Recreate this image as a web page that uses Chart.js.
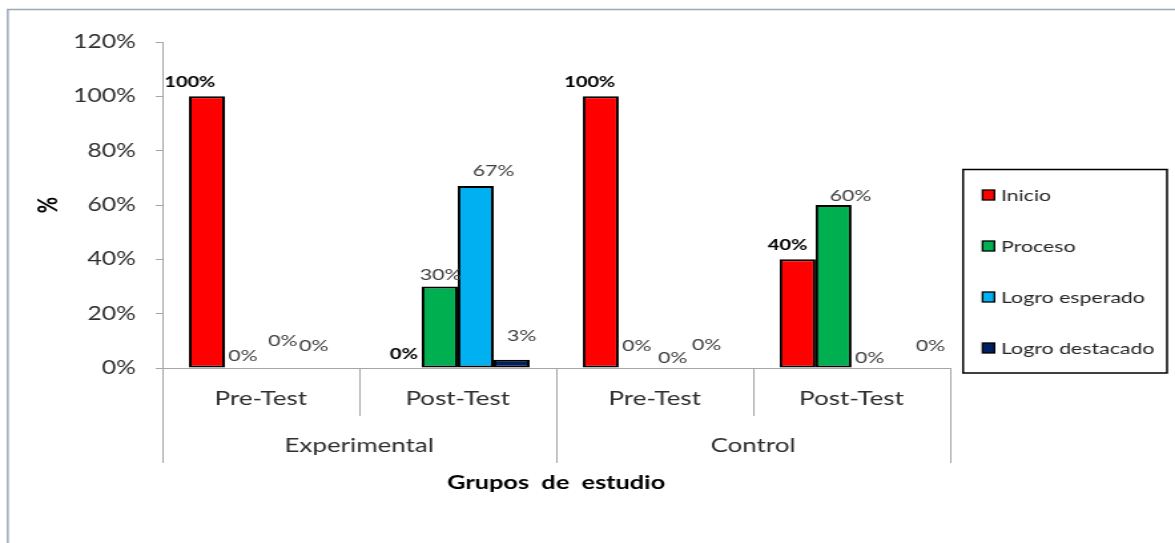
<!DOCTYPE html>
<html>
<head>
<meta charset="utf-8">
<script src="https://cdn.jsdelivr.net/npm/chart.js@4"></script>
<style>
  html, body { margin: 0; padding: 0; background: #ffffff; overflow: hidden; }
</style>
</head>
<body>
<canvas id="c" width="883" height="543" style="width:1175px;height:543px;display:block;"></canvas>
<script>
// ---- data ----
const categories = ['Pre-Test', 'Post-Test', 'Pre-Test', 'Post-Test'];
const groups = ['Experimental', 'Control'];
const seriesNames = ['Inicio', 'Proceso', 'Logro esperado', 'Logro destacado'];
const inicio = [100, 0, 100, 40];
const proceso = [0, 30, 0, 60];
const logroEsperado = [0, 67, 0, 0];
const logroDestacado = [0, 3, 0, 0];
const yTicks = [0, 20, 40, 60, 80, 100, 120];
const xTitle = 'Grupos  de  estudio';
const yTitle = '%';

// ---- styling ----
const S = 1175 / 883; // horizontal stretch of the picture
const colors = ['#FF0000', '#00B050', '#00B0F0', '#002060'];
const FONT = 'Lato';
// label nudges (dx, dy) per series per category, in picture pixels
const labelNudges = [
  [[-17, -14], [0, -14], [-11, -14], [-10, -14]],
  [[0, -12], [1, -12], [0, -22], [17, -9]],
  [[4, -27], [18, -15], [0, -10], [0, -10]],
  [[-1, -22], [10, -24], [-2, -23], [25, -22]]
];
const boldSeries = [true, false, false, false];

const seriesValues = [inicio, proceso, logroEsperado, logroDestacado];

const decorPlugin = {
  id: 'decor',
  beforeDraw(chart) {
    const ctx = chart.ctx;
    ctx.save();
    ctx.fillStyle = '#ffffff';
    ctx.fillRect(0, 0, chart.width, chart.height);
    ctx.strokeStyle = '#9aa8bb';
    ctx.lineWidth = 1.5;
    ctx.strokeRect(7.8 / S, 9.5, chart.width + 50, chart.height + 50);
    ctx.restore();
  },
  afterDraw(chart) {
    const ctx = chart.ctx;
    const area = chart.chartArea;
    const n = categories.length;
    const cw = (area.right - area.left) / n;
    ctx.save();
    // category dividers
    ctx.strokeStyle = '#a6a6a6';
    ctx.lineWidth = 1;
    for (let i = 0; i <= n; i++) {
      const x = Math.round(area.left + i * cw) + 0.5;
      const isGroup = (i % 2 === 0);
      ctx.beginPath();
      ctx.moveTo(x, area.bottom);
      ctx.lineTo(x, isGroup ? 463 : 416);
      ctx.stroke();
    }
    // group labels
    ctx.fillStyle = '#2e2e2e';
    ctx.font = '19.5px ' + FONT;
    ctx.textAlign = 'center';
    ctx.textBaseline = 'middle';
    groups.forEach((g, gi) => {
      const x = area.left + (gi * 2 + 1) * cw;
      ctx.fillText(g, x, 446);
    });
    // data labels
    chart.data.datasets.forEach((ds, di) => {
      const meta = chart.getDatasetMeta(di);
      meta.data.forEach((bar, i) => {
        const v = ds.data[i];
        const nd = labelNudges[di][i];
        const x = bar.x + nd[0] / S;
        const y = bar.y + nd[1];
        ctx.font = (boldSeries[di] ? 'bold 15px ' : '16px ') + FONT;
        ctx.fillStyle = boldSeries[di] ? '#000000' : '#404040';
        ctx.fillText(v + '%', x, y);
      });
    });
    // legend box
    const lx = area.right + 9.8;
    const lw = 1167 / S - lx;
    const ly = 169.5, lh = 203.5;
    ctx.strokeStyle = '#000000';
    ctx.lineWidth = 1.5;
    ctx.strokeRect(lx, ly, lw, lh);
    ctx.textAlign = 'left';
    ctx.font = '16px ' + FONT;
    chart.data.datasets.forEach((ds, di) => {
      const cy = ly + 25.5 + di * 51;
      const mx = 982.5 / S;
      ctx.fillStyle = ds.backgroundColor;
      ctx.fillRect(mx, cy - 5, 9, 10);
      ctx.strokeStyle = '#000000';
      ctx.lineWidth = 1.3;
      ctx.strokeRect(mx, cy - 5, 9, 10);
      ctx.fillStyle = '#262626';
      ctx.fillText(ds.label, 1001 / S, cy + 0.5);
    });
    ctx.restore();
  }
};

const datasets = seriesNames.map((name, i) => ({
  label: name,
  data: seriesValues[i],
  backgroundColor: colors[i],
  borderColor: '#000000',
  borderWidth: 2,
  borderSkipped: false
}));

new Chart(document.getElementById('c'), {
  type: 'bar',
  data: { labels: categories, datasets: datasets },
  options: {
    responsive: false,
    devicePixelRatio: 1,
    animation: false,
    events: [],
    layout: { padding: { left: 0, top: 42, right: 883 - 950 / S, bottom: 0 } },
    datasets: { bar: { categoryPercentage: 0.73, barPercentage: 1.0 } },
    plugins: {
      legend: { display: false },
      tooltip: { enabled: false },
      title: { display: false }
    },
    scales: {
      x: {
        grid: { display: false, drawTicks: false },
        border: { display: true, color: '#a6a6a6', width: 1 },
        ticks: { color: '#2e2e2e', font: { family: FONT, size: 19.5 }, padding: 19, maxRotation: 0, autoSkip: false },
        title: { display: true, text: xTitle, color: '#000000', font: { family: FONT, size: 19, weight: 'bold' }, padding: { top: 0, bottom: 49 } },
        afterFit: (s) => { s.height = 175; }
      },
      y: {
        min: 0,
        max: 120,
        afterBuildTicks: (s) => { s.ticks = yTicks.map(v => ({ value: v })); },
        grid: { drawOnChartArea: false, drawTicks: true, tickLength: 5, color: '#a6a6a6' },
        border: { display: true, color: '#a6a6a6', width: 1 },
        ticks: { color: '#2e2e2e', font: { family: FONT, size: 18.5 }, padding: 15, callback: (v) => v + '%' },
        title: { display: true, text: yTitle, color: '#000000', font: { family: FONT, size: 20, weight: 'bold' }, padding: { top: 25, bottom: 0 } },
        afterFit: (s) => { s.width = 122; }
      }
    }
  },
  plugins: [decorPlugin]
});
</script>
</body>
</html>
